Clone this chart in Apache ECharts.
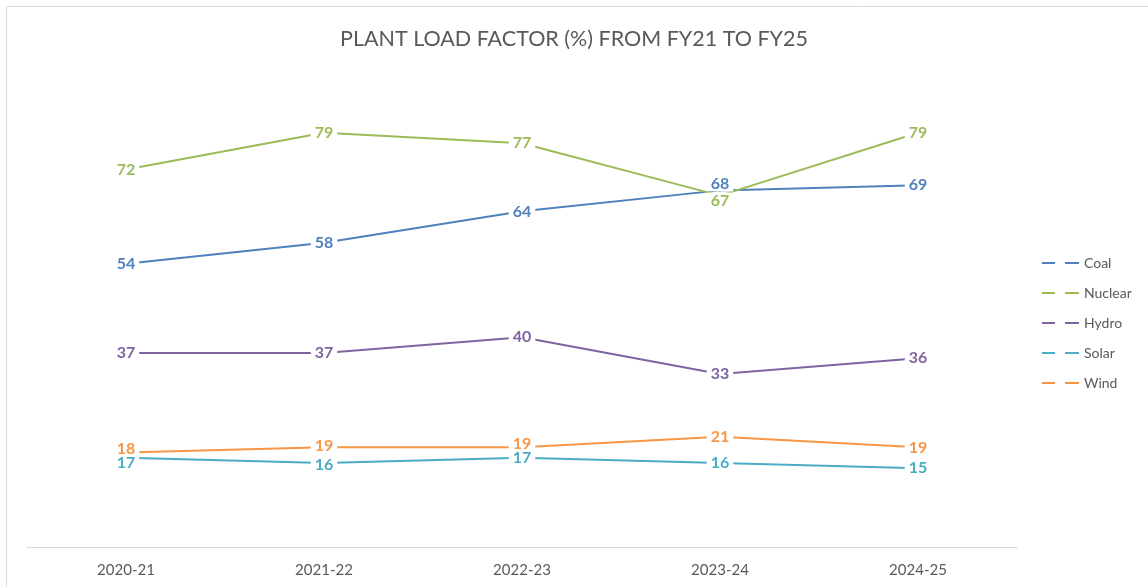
<!DOCTYPE html>
<html>
<head>
<meta charset="utf-8">
<script src="https://cdn.jsdelivr.net/npm/echarts@6/dist/echarts.min.js"></script>
<style>
html,body{margin:0;padding:0;background:#fff;}
#chart{width:1148px;height:587px;}
</style>
</head>
<body>
<div id="chart"></div>
<script>
const categories = ['2020-21', '2021-22', '2022-23', '2023-24', '2024-25'];
const seriesNames = ['Coal', 'Nuclear', 'Hydro', 'Solar', 'Wind'];
const coal    = [54, 58, 64, 68, 69];
const nuclear = [72, 79, 77, 67, 79];
const hydro   = [37, 37, 40, 33, 36];
const solar   = [17, 16, 17, 16, 15];
const wind    = [18, 19, 19, 21, 19];
const chartTitle = 'PLANT LOAD FACTOR (%) FROM FY21 TO FY25';

const values = [coal, nuclear, hydro, solar, wind];
const colors = ['#4F81BD', '#9BBB59', '#8064A2', '#4BACC6', '#F79646'];
// label vertical nudges (px) to avoid overlaps, per series per category
const nudges = [
  [0, 0, 0, -7, 0],
  [0, 0, 0, 5, 0],
  [0, 0, 0, 0, 0],
  [5, 2, 0, 0, 0],
  [-4, -2, -4, 0, 0]
];

const font = 'Lato, "Open Sans", sans-serif';

const series = seriesNames.map((name, si) => ({
  name: name,
  type: 'line',
  symbol: 'circle',
  symbolSize: 2,
  showSymbol: true,
  itemStyle: { color: colors[si] },
  lineStyle: { color: colors[si], width: 2 },
  emphasis: { disabled: true },
  data: values[si].map((v, i) => ({
    value: v,
    label: { offset: [0, nudges[si][i]] }
  })),
  label: {
    show: true,
    position: 'inside',
    color: colors[si],
    fontFamily: font,
    fontWeight: 'bold',
    fontSize: 16,
    backgroundColor: '#ffffff',
    padding: [0, 4]
  }
}));

const chart = echarts.init(document.getElementById('chart'), null, { renderer: 'canvas' });
chart.setOption({
  animation: false,
  backgroundColor: '#ffffff',
  title: {
    text: chartTitle,
    left: 'center',
    top: 23,
    textStyle: { color: '#595959', fontFamily: font, fontWeight: 'normal', fontSize: 21.5 }
  },
  graphic: [{
    type: 'rect',
    shape: { x: 6.5, y: 6.5, width: 1200, height: 700 },
    style: { fill: 'none', stroke: '#d9d9d9', lineWidth: 1 },
    silent: true
  }],
  legend: {
    orient: 'vertical',
    left: 1042,
    top: 256,
    padding: 0,
    itemGap: 16,
    itemWidth: 37,
    itemHeight: 2,
    icon: 'path://M0,0L13,0L13,2L0,2Z M23,0L37,0L37,2L23,2Z',
    textStyle: { color: '#595959', fontFamily: font, fontSize: 14 },
    data: seriesNames
  },
  grid: { left: 27, right: 131, top: 75, bottom: 40 },
  xAxis: {
    type: 'category',
    data: categories,
    boundaryGap: true,
    axisLine: { lineStyle: { color: '#d9d9d9', width: 1 } },
    axisTick: { show: false },
    axisLabel: { color: '#595959', fontFamily: font, fontSize: 15, margin: 16 }
  },
  yAxis: {
    type: 'value',
    min: 0,
    max: 90,
    interval: 10,
    show: false,
    splitLine: { show: false }
  },
  series: series
});
</script>
</body>
</html>
